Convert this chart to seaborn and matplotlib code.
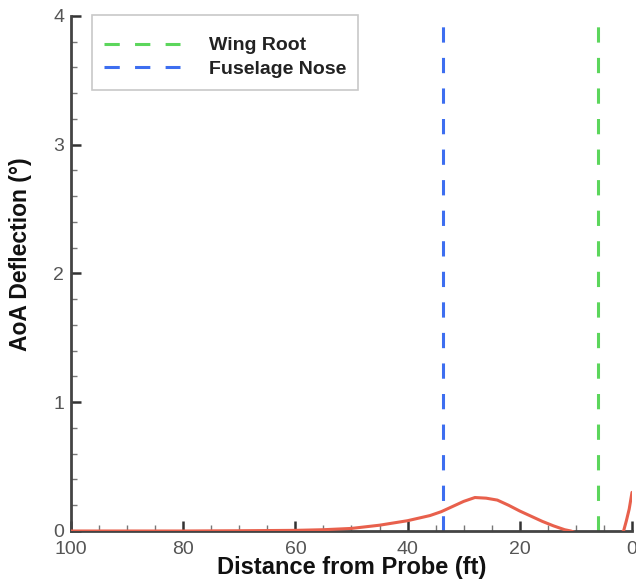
import matplotlib
matplotlib.use("Agg")
import matplotlib.pyplot as plt
import seaborn as sns
import pandas as pd
from matplotlib.ticker import MultipleLocator

# Data
distance = [100, 90, 80, 70, 60, 55, 50, 45, 40, 36, 34, 32, 30, 28, 26, 24,
            22, 20, 18, 16, 14, 12, 10.9, 9, 6, 4, 2, 1.5, 1.0, 0.5, 0.0]
deflection = [0.0, 0.0, 0.0, 0.002, 0.005, 0.01, 0.02, 0.045, 0.08, 0.12, 0.15,
              0.19, 0.23, 0.26, 0.255, 0.24, 0.2, 0.155, 0.115, 0.075, 0.04,
              0.01, 0.0, -0.03, -0.05, -0.04, -0.02, 0.0, 0.08, 0.17, 0.30]
ref_labels = ["Wing Root", "Fuselage Nose"]
ref_positions = [6.1, 33.6]
ref_colors = ["#5cd65c", "#3d6ef0"]

sns.set_theme(style="white")
plt.rcParams['font.family'] = ['Liberation Sans', 'DejaVu Sans']

fig = plt.figure(figsize=(6.36, 5.83), dpi=100)
ax = fig.add_axes([0.1116, 0.0892, 0.8821, 0.8834])

df = pd.DataFrame({"x": distance, "y": deflection})
sns.lineplot(data=df, x="x", y="y", sort=False, ax=ax, color="#e8604c",
             linewidth=2.2, zorder=3)

for lab, pos, col in zip(ref_labels, ref_positions, ref_colors):
    ax.axvline(pos, color=col, linewidth=2.2, dashes=(5, 5), label=lab, zorder=2)

ax.set_xlim(100, 0)
ax.set_ylim(0, 4)
ax.xaxis.set_major_locator(MultipleLocator(20))
ax.xaxis.set_minor_locator(MultipleLocator(5))
ax.yaxis.set_major_locator(MultipleLocator(1))
ax.yaxis.set_minor_locator(MultipleLocator(0.2))

ax.tick_params(axis='both', which='major', direction='in', length=7, width=1.8,
               color='#333333', labelsize=14, labelcolor='#555555', pad=5)
ax.tick_params(axis='x', which='major', pad=7)
ax.tick_params(axis='both', which='minor', direction='in', length=4, width=1.0,
               color='#777777')
ax.tick_params(axis='x', which='both', bottom=True)
ax.tick_params(axis='y', which='both', left=True)

for s in ['top', 'right']:
    ax.spines[s].set_visible(False)
for s in ['left', 'bottom']:
    ax.spines[s].set_color('#444444')
    ax.spines[s].set_linewidth(2.0)

ax.set_xlabel("Distance from Probe (ft)", fontsize=17, fontweight='bold',
              color='#111111', labelpad=-1)
ax.set_ylabel("AoA Deflection (°)", fontsize=16.5, fontweight='bold',
              color='#111111')
ax.yaxis.set_label_coords(-0.07, 0.537)

leg = ax.legend(loc='upper left', bbox_to_anchor=(0.037, 1.002), fontsize=14,
                handlelength=3.9, handletextpad=1.5, frameon=True, fancybox=False,
                borderpad=0.62, labelspacing=0.3, borderaxespad=0,
                title=" ", title_fontsize=2.5)
leg.get_frame().set_edgecolor('#bbbbbb')
leg.get_frame().set_linewidth(1.2)
for t in leg.get_texts():
    t.set_fontweight('bold')
    t.set_color('#222222')

fig.savefig("out.png", dpi=100)
